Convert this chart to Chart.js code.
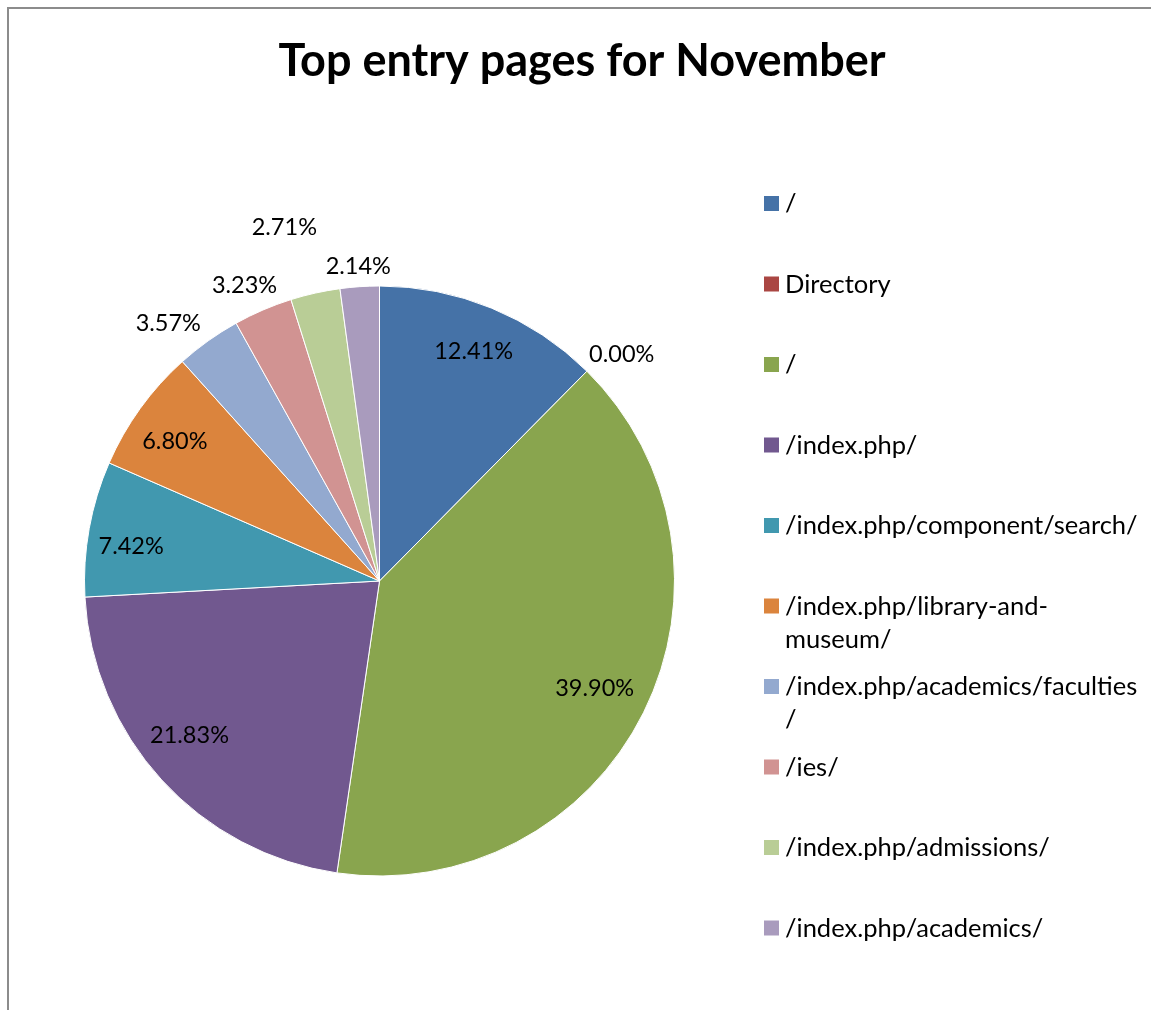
<!DOCTYPE html>
<html>
<head>
<meta charset="utf-8">
<title>Top entry pages for November</title>
<script src="https://cdn.jsdelivr.net/npm/chart.js@4/dist/chart.umd.min.js"></script>
<style>
    html, body { margin: 0; padding: 0; background: #fff; overflow: hidden; }
    #wrap { position: relative; width: 1151px; height: 1010px; }
    #frame { position: absolute; left: 7px; top: 7px; width: 1200px; height: 1100px; border: 2px solid #8c8c8c; box-sizing: border-box; }
    canvas { position: absolute; left: 0; top: 0; }
</style>
</head>
<body>
<div id="wrap">
    <div id="frame"></div>
    <canvas id="pie" width="1151" height="1010"></canvas>
</div>
<script>
// Entry pages and their share of visits (%)
const pages = [
    "/",
    "Directory",
    "/",
    "/index.php/",
    "/index.php/component/search/",
    "/index.php/library-and-museum/",
    "/index.php/academics/faculties/",
    "/ies/",
    "/index.php/admissions/",
    "/index.php/academics/"
];
const shares = [12.41, 0.00, 39.90, 21.83, 7.42, 6.80, 3.57, 3.23, 2.71, 2.14];
const sliceColors = [
    "#4572A7", "#AA4643", "#89A54E", "#71588F", "#4198AF",
    "#DB843D", "#93A9CF", "#D19392", "#B9CD96", "#A99BBD"
];

// where each percentage sits: distance from centre (x radius) and angle nudge (deg)
const labelRadius = [0.84, 1.125, 0.815, 0.83, 0.85, 0.84, 1.13, 1.10, 1.24, 1.07];
const labelNudge = [0, 2.2, 0, 3.3, -2.3, -1.5, -3.8, -1.3, -2.5, 0];

const FONT = "Lato, 'Open Sans', sans-serif";

// break long legend entries after a hyphen, or before a slash if there is none
function wrapLabel(ctx, text, maxW) {
    if (ctx.measureText(text).width <= maxW) return [text];
    let best = -1;
    for (let i = 1; i < text.length; i++) {
        if (text[i - 1] === '-' && ctx.measureText(text.slice(0, i)).width <= maxW) best = i;
    }
    if (best < 0) {
        for (let i = 1; i < text.length; i++) {
            if (text[i] === '/' && ctx.measureText(text.slice(0, i)).width <= maxW) best = i;
        }
    }
    if (best < 0) return [text];
    return [text.slice(0, best), text.slice(best)];
}

const decorations = {
    id: 'decorations',
    afterDraw(chart) {
        const ctx = chart.ctx;
        const meta = chart.getDatasetMeta(0);
        ctx.save();

        // title
        ctx.fillStyle = '#000';
        ctx.font = "bold 45px " + FONT;
        ctx.textAlign = 'center';
        ctx.textBaseline = 'alphabetic';
        ctx.fillText("Top entry pages for November", 582, 76);

        // percentage labels
        ctx.font = "23.5px " + FONT;
        ctx.textBaseline = 'middle';
        meta.data.forEach((arc, i) => {
            const p = arc.getProps(['x', 'y', 'startAngle', 'endAngle', 'outerRadius']);
            const mid = (p.startAngle + p.endAngle) / 2 + labelNudge[i] * Math.PI / 180;
            const r = p.outerRadius * labelRadius[i];
            const tx = p.x + Math.cos(mid) * r;
            const ty = p.y + Math.sin(mid) * r;
            ctx.fillText(shares[i].toFixed(2) + "%", tx, ty);
        });

        // legend
        ctx.font = "25.5px " + FONT;
        ctx.textAlign = 'left';
        ctx.textBaseline = 'alphabetic';
        pages.forEach((name, i) => {
            const top = 196 + i * 80.5;
            ctx.fillStyle = sliceColors[i];
            ctx.fillRect(764, top, 15, 15);
            ctx.fillStyle = '#000';
            wrapLabel(ctx, name, 356).forEach((line, k) => {
                ctx.fillText(line, 785, top + 16 + k * 33);
            });
        });
        ctx.restore();
    }
};

new Chart(document.getElementById('pie'), {
    type: 'pie',
    data: {
        labels: pages,
        datasets: [{
            data: shares,
            backgroundColor: sliceColors,
            borderColor: '#ffffff',
            borderWidth: 1,
            hoverOffset: 0,
            radius: 295
        }]
    },
    options: {
        responsive: false,
        animation: false,
        layout: { padding: { left: 84, right: 476, top: 286, bottom: 134 } },
        plugins: {
            legend: { display: false },
            title: { display: false },
            tooltip: { enabled: false }
        }
    },
    plugins: [decorations]
});
</script>
</body>
</html>
